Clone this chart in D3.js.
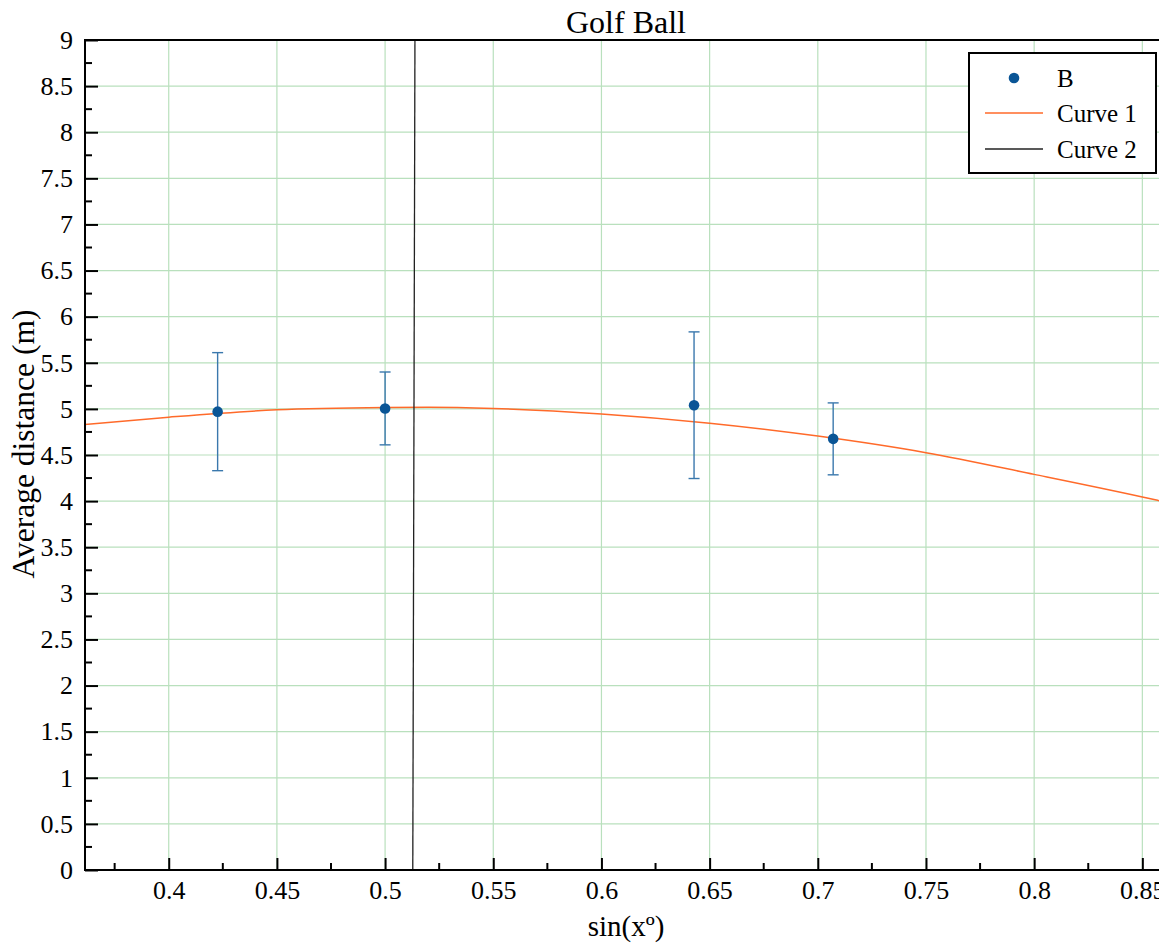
<!DOCTYPE html>
<html>
<head>
<meta charset="utf-8">
<script src="https://cdn.jsdelivr.net/npm/d3@7"></script>
<style>
  body { margin: 0; background: #fff; }
  text { font-family: "Liberation Serif", "Times New Roman", serif; fill: #000; }
</style>
</head>
<body>
<div id="chart"></div>
<script>
// measured points (x = sin of launch angle)
var pointX = [0.4226, 0.5, 0.6428, 0.7071];
var pointY = [4.97, 5.005, 5.04, 4.675];
var pointErr = [0.64, 0.395, 0.795, 0.39];

// Curve 1 (fit)
var curve1X = [0.3613, 0.40, 0.45, 0.50, 0.52, 0.55, 0.60, 0.65, 0.70, 0.75, 0.80, 0.85, 0.8577];
var curve1Y = [4.83, 4.91, 4.99, 5.015, 5.018, 5.005, 4.945, 4.845, 4.705, 4.525, 4.29, 4.045, 4.005];

// Curve 2 (almost vertical line)
var curve2X = [0.5128, 0.5138];
var curve2Y = [0, 9];

var xTicks = [0.4, 0.45, 0.5, 0.55, 0.6, 0.65, 0.7, 0.75, 0.8, 0.85];
var yTicks = [0, 0.5, 1, 1.5, 2, 2.5, 3, 3.5, 4, 4.5, 5, 5.5, 6, 6.5, 7, 7.5, 8, 8.5, 9];

var legendNames = ["B", "Curve 1", "Curve 2"];

var W = 1159, H = 945;
var margin = {top: 40, right: 0, bottom: 75, left: 85};
var width = W - margin.left - margin.right,
    height = H - margin.top - margin.bottom;

var blue = "#0a5596", errBlue = "#3a78ad", orange = "#ff6a2a", grid = "#b9e0bd";

var svg = d3.select("#chart").append("svg")
    .attr("width", W).attr("height", H);

var g = svg.append("g")
    .attr("transform", "translate(" + margin.left + "," + margin.top + ")");

var x = d3.scaleLinear().domain([0.3613, 0.8577]).range([0, width]);
var y = d3.scaleLinear().domain([0, 9]).range([height, 0]);

// grid
g.append("g").selectAll("line").data(xTicks).enter().append("line")
    .attr("x1", function(d) { return x(d); }).attr("x2", function(d) { return x(d); })
    .attr("y1", 0).attr("y2", height)
    .attr("stroke", grid).attr("stroke-width", 1.2);
g.append("g").selectAll("line").data(yTicks.slice(1, -1)).enter().append("line")
    .attr("x1", 0).attr("x2", width)
    .attr("y1", function(d) { return y(d); }).attr("y2", function(d) { return y(d); })
    .attr("stroke", grid).attr("stroke-width", 1.2);

var clip = g.append("clipPath").attr("id", "clip").append("rect")
    .attr("width", width).attr("height", height);
var plot = g.append("g").attr("clip-path", "url(#clip)");

// curve 1
var c1 = curve1X.map(function(d, i) { return [d, curve1Y[i]]; });
plot.append("path")
    .attr("d", d3.line().x(function(d) { return x(d[0]); }).y(function(d) { return y(d[1]); })
        .curve(d3.curveMonotoneX)(c1))
    .attr("fill", "none").attr("stroke", orange).attr("stroke-width", 1.5);

// curve 2
var c2 = curve2X.map(function(d, i) { return [d, curve2Y[i]]; });
plot.append("path")
    .attr("d", d3.line().x(function(d) { return x(d[0]); }).y(function(d) { return y(d[1]); })(c2))
    .attr("fill", "none").attr("stroke", "#222").attr("stroke-width", 1.3);

// error bars
var pts = pointX.map(function(d, i) { return {x: d, y: pointY[i], e: pointErr[i]}; });
var eb = plot.append("g").selectAll("g").data(pts).enter().append("g")
    .attr("stroke", errBlue).attr("stroke-width", 1.4);
eb.append("line")
    .attr("x1", function(d) { return x(d.x); }).attr("x2", function(d) { return x(d.x); })
    .attr("y1", function(d) { return y(d.y + d.e); }).attr("y2", function(d) { return y(d.y - d.e); });
eb.append("line")
    .attr("x1", function(d) { return x(d.x) - 5.5; }).attr("x2", function(d) { return x(d.x) + 5.5; })
    .attr("y1", function(d) { return y(d.y + d.e); }).attr("y2", function(d) { return y(d.y + d.e); });
eb.append("line")
    .attr("x1", function(d) { return x(d.x) - 5.5; }).attr("x2", function(d) { return x(d.x) + 5.5; })
    .attr("y1", function(d) { return y(d.y - d.e); }).attr("y2", function(d) { return y(d.y - d.e); });

plot.append("g").selectAll("circle").data(pts).enter().append("circle")
    .attr("cx", function(d) { return x(d.x); }).attr("cy", function(d) { return y(d.y); })
    .attr("r", 5.3).attr("fill", blue);

// axes
var xAxis = d3.axisBottom(x).tickValues(xTicks).tickSize(-12).tickPadding(11)
    .tickFormat(function(d) { return String(+d.toFixed(2)); });
var xg = g.append("g").attr("transform", "translate(0," + height + ")").call(xAxis);
var xMinor = d3.range(0.375, 0.86, 0.05);
xg.selectAll(".minor").data(xMinor).enter().append("line").attr("class", "minor")
    .attr("x1", function(d) { return x(d); }).attr("x2", function(d) { return x(d); })
    .attr("y1", 0).attr("y2", -7).attr("stroke", "#000").attr("stroke-width", 2);

var yAxis = d3.axisLeft(y).tickValues(yTicks).tickSize(-13).tickPadding(12)
    .tickFormat(function(d) { return String(d); });
var yg = g.append("g").call(yAxis);
var yMinor = d3.range(0.25, 9, 0.5);
yg.selectAll(".minor").data(yMinor).enter().append("line").attr("class", "minor")
    .attr("x1", 0).attr("x2", 7)
    .attr("y1", function(d) { return y(d); }).attr("y2", function(d) { return y(d); })
    .attr("stroke", "#000").attr("stroke-width", 2);

[xg, yg].forEach(function(a) {
    a.attr("font-family", null);
    a.select(".domain").remove();
    a.selectAll(".tick line").attr("stroke", "#000").attr("stroke-width", 2);
    a.selectAll("text").style("font-size", "26px").style("font-family", "Liberation Serif");
});

// axis lines
g.append("line").attr("x1", 0).attr("x2", width).attr("y1", height).attr("y2", height)
    .attr("stroke", "#000").attr("stroke-width", 2);
g.append("line").attr("x1", 0).attr("x2", width).attr("y1", 0).attr("y2", 0)
    .attr("stroke", "#000").attr("stroke-width", 2);
g.append("line").attr("x1", 0).attr("x2", 0).attr("y1", -1).attr("y2", height + 1)
    .attr("stroke", "#000").attr("stroke-width", 2);

// titles
svg.append("text").attr("x", 626).attr("y", 33).attr("text-anchor", "middle")
    .style("font-size", "32px").text("Golf Ball");
svg.append("text").attr("x", 626).attr("y", 936).attr("text-anchor", "middle")
    .style("font-size", "29px").text("sin(xº)");
svg.append("text").attr("transform", "translate(34,444) rotate(-90)")
    .attr("text-anchor", "middle").style("font-size", "31.5px").text("Average distance (m)");

// legend
var lg = svg.append("g").attr("transform", "translate(969,53)");
lg.append("rect").attr("width", 187).attr("height", 120)
    .attr("fill", "#fff").attr("stroke", "#000").attr("stroke-width", 2);
var rowsY = [25, 60, 96];
lg.append("circle").attr("cx", 45).attr("cy", rowsY[0]).attr("r", 5.3).attr("fill", blue);
lg.append("line").attr("x1", 16).attr("x2", 74).attr("y1", rowsY[1]).attr("y2", rowsY[1])
    .attr("stroke", orange).attr("stroke-width", 1.3);
lg.append("line").attr("x1", 16).attr("x2", 74).attr("y1", rowsY[2]).attr("y2", rowsY[2])
    .attr("stroke", "#222").attr("stroke-width", 1.3);
lg.selectAll(".lt").data(legendNames).enter().append("text").attr("class", "lt")
    .attr("x", 88).attr("y", function(d, i) { return rowsY[i] + 9; })
    .style("font-size", "25px").text(function(d) { return d; });
</script>
</body>
</html>
